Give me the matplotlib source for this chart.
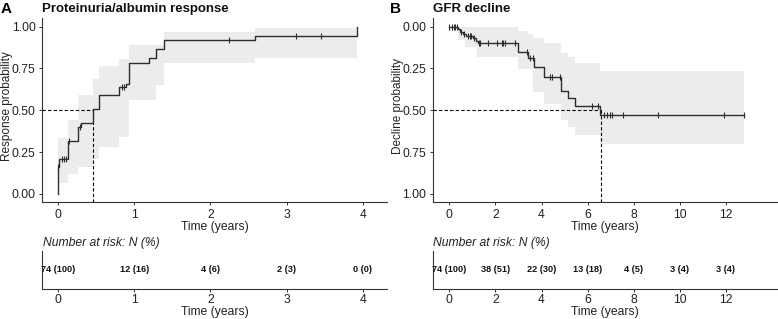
import numpy as np
import matplotlib
matplotlib.use("Agg")
import matplotlib.pyplot as plt

plt.rcParams['font.family'] = ['Liberation Sans', 'DejaVu Sans']

# ---------------- data: panel A (response) ----------------
a_event_t = [0.0, 0.01, 0.13, 0.254, 0.30, 0.45, 0.53, 0.80, 0.89, 0.93, 1.19, 1.28, 1.39, 2.58, 3.93]
a_event_p = [0.163, 0.211, 0.319, 0.40, 0.425, 0.51, 0.59, 0.64, 0.66, 0.78, 0.815, 0.868, 0.92, 0.946, 1.0]
a_censor_t = [0.0, 0.045, 0.08, 0.10, 0.14, 0.29, 0.84, 0.87, 2.24, 3.12, 3.45]
a_band_t = [0.0, 0.13, 0.254, 0.45, 0.53, 0.80, 0.93, 1.28, 1.39, 2.58, 3.93]
a_band_lo = [0.064, 0.12, 0.16, 0.21, 0.283, 0.343, 0.56, 0.65, 0.78, 0.815, 0.815]
a_band_hi = [0.335, 0.44, 0.59, 0.69, 0.765, 0.805, 0.89, 0.89, 0.97, 0.99, 0.99]
a_median = 0.45
a_risk_t = [0, 1, 2, 3, 4]
a_risk = ["74 (100)", "12 (16)", "4 (6)", "2 (3)", "0 (0)"]

# ---------------- data: panel B (GFR decline) ----------------
b_event_t = [0.36, 0.46, 0.61, 0.71, 1.04, 1.14, 1.23, 2.97, 3.40, 3.69, 4.12, 4.85, 5.13, 5.46, 6.55]
b_event_p = [0.016, 0.03, 0.044, 0.056, 0.07, 0.083, 0.10, 0.149, 0.189, 0.239, 0.299, 0.382, 0.428, 0.474, 0.53]
b_end_t = 12.8
b_censor_t = [0.0, 0.12, 0.19, 0.25, 0.32, 0.49, 0.65, 0.82, 0.88, 0.95, 1.08, 1.27, 1.33, 1.70, 2.06,
              2.28, 2.35, 2.43, 2.86, 3.36, 3.50, 3.65, 4.37, 4.44, 4.80, 6.18, 6.47, 6.69, 6.83, 6.95,
              7.05, 7.53, 9.04, 11.93, 12.8]
b_band_t = [0.0, 0.36, 0.68, 1.19, 2.97, 3.40, 3.65, 4.12, 4.85, 5.13, 5.46, 6.55, 12.8]
b_band_lo = [0.0, 0.0, 0.0, 0.004, 0.024, 0.044, 0.07, 0.10, 0.16, 0.18, 0.22, 0.263, 0.263]
b_band_hi = [0.0, 0.08, 0.12, 0.18, 0.255, 0.255, 0.39, 0.46, 0.56, 0.60, 0.645, 0.70, 0.70]
b_median = 6.57
b_risk_t = [0, 2, 4, 6, 8, 10, 12]
b_risk = ["74 (100)", "38 (51)", "22 (30)", "13 (18)", "4 (5)", "3 (4)", "3 (4)"]

LINE = '#2e2e2e'
BAND = '#ebecec'
W, H = 778, 319

fig = plt.figure(figsize=(W / 100, H / 100), dpi=100)


def rect(l, r, t, b):
    return [l / W, 1 - b / H, (r - l) / W, (b - t) / H]


def style(ax):
    for s in ['top', 'right']:
        ax.spines[s].set_visible(False)
    for s in ['left', 'bottom']:
        ax.spines[s].set_linewidth(0.8)
        ax.spines[s].set_color('#333333')
    ax.tick_params(length=2.5, width=0.7, color='#333333', labelsize=8.7,
                   labelcolor='#222222', pad=2)


def step_val(times, vals, t, start=0.0):
    idx = np.searchsorted(times, t, side='right') - 1
    return vals[idx] if idx >= 0 else start


def km_panel(ax, ev_t, ev_p, end_t, cen_t, band_t, band_lo, band_hi, xlim, ylim, xticks, med):
    ax.fill_between(band_t, band_lo, band_hi, step='post', color=BAND, lw=0, zorder=1)
    xs = [0.0] + list(ev_t)
    ys = [0.0] + list(ev_p)
    if end_t is not None:
        xs.append(end_t)
        ys.append(ev_p[-1])
    ax.plot(xs, ys, drawstyle='steps-post', color=LINE, lw=1.0, zorder=3)
    cy = [step_val(np.array(ev_t), ev_p, c) for c in cen_t]
    ax.plot(cen_t, cy, ls='none', marker='|', ms=4.5, mew=0.8, color=LINE, zorder=4)
    ax.set_xlim(*xlim)
    ax.set_ylim(*ylim)
    ax.set_xticks(xticks)
    ax.set_yticks([0, 0.25, 0.5, 0.75, 1.0])
    ax.set_yticklabels(['0.00', '0.25', '0.50', '0.75', '1.00'])
    ax.plot([xlim[0], med], [0.5, 0.5], ls=(0, (3, 2)), color='black', lw=0.8, zorder=2)
    style(ax)


def risk_panel(ax, rt, rl, xlim, xticks):
    ax.set_xlim(*xlim)
    ax.set_ylim(0, 1)
    ax.set_xticks(xticks)
    ax.set_yticks([])
    for t, s in zip(rt, rl):
        ax.text(t, 0.5, s, ha='center', va='center', fontsize=6.6, fontweight='bold',
                family=['Liberation Sans Narrow', 'Liberation Sans'], color='#111111')
    style(ax)
    ax.tick_params(axis='x', pad=1.0)
    ax.set_xlabel('Time (years)', fontsize=8.7, labelpad=0.0, color='#222222')


# Panel A
xlimA = (-0.214, 4.32)
axA = fig.add_axes(rect(42, 387, 18.3, 202.3))
km_panel(axA, a_event_t, a_event_p, None, a_censor_t, a_band_t, a_band_lo, a_band_hi,
         xlimA, (-0.05, 1.05), [0, 1, 2, 3, 4], a_median)
axA.plot([a_median, a_median], [0.5, -0.05], ls=(0, (3, 2)), color='black', lw=0.8, zorder=2)
axA.set_xlabel('Time (years)', fontsize=8.7, labelpad=0.5, color='#222222')

rA = fig.add_axes(rect(42, 387, 250.7, 289.3))
risk_panel(rA, a_risk_t, a_risk, xlimA, [0, 1, 2, 3, 4])

# Panel B
xlimB = (-0.72, 14.2)
axB = fig.add_axes(rect(432.7, 776.7, 18.3, 202.3))
km_panel(axB, b_event_t, b_event_p, b_end_t, b_censor_t, b_band_t, b_band_lo, b_band_hi,
         xlimB, (1.05, -0.05), [0, 2, 4, 6, 8, 10, 12], b_median)
axB.plot([b_median, b_median], [0.5, 1.05], ls=(0, (3, 2)), color='black', lw=0.8, zorder=2)
axB.set_xlabel('Time (years)', fontsize=8.7, labelpad=0.5, color='#222222')

rB = fig.add_axes(rect(432.7, 776.7, 250.7, 289.3))
risk_panel(rB, b_risk_t, b_risk, xlimB, [0, 2, 4, 6, 8, 10, 12])

# Y-axis labels placed explicitly
fig.text(7.5 / W, 1 - 106 / H, 'Response probability', fontsize=8.5, rotation=90,
         ha='center', va='center', color='#222222')
fig.text(397.5 / W, 1 - 106 / H, 'Decline probability', fontsize=8.5, rotation=90,
         ha='center', va='center', color='#222222')

# Titles and panel letters
fig.text(1 / W, 1 - 9 / H, 'A', fontsize=11, fontweight='bold', va='center', ha='left')
fig.text(42 / W, 1 - 9 / H, 'Proteinuria/albumin response', fontsize=9.5, fontweight='bold',
         va='center', ha='left', color='#111111')
fig.text(390 / W, 1 - 9 / H, 'B', fontsize=11, fontweight='bold', va='center', ha='left')
fig.text(433 / W, 1 - 9 / H, 'GFR decline', fontsize=9.5, fontweight='bold',
         va='center', ha='left', color='#111111')

fig.text(43 / W, 1 - 243 / H, 'Number at risk: N (%)', fontsize=8.7, style='italic',
         va='center', ha='left', color='#222222')
fig.text(433 / W, 1 - 243 / H, 'Number at risk: N (%)', fontsize=8.7, style='italic',
         va='center', ha='left', color='#222222')

fig.savefig('out.png', dpi=100)
